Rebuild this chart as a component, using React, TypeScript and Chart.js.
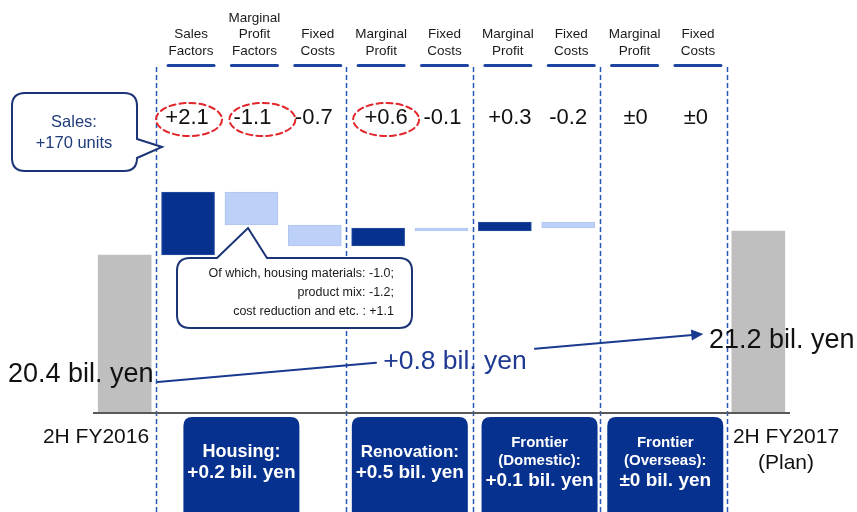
import React, { useEffect, useRef } from 'react';
import { Chart, registerables } from 'chart.js';
Chart.register(...registerables);

const categories = ['2H FY2016', 'Sales Factors', 'Marginal Profit Factors', 'Fixed Costs', 'Marginal Profit', 'Fixed Costs', 'Marginal Profit', 'Fixed Costs', 'Marginal Profit', 'Fixed Costs', '2H FY2017 (Plan)'];
const headerLabels: string[][] = [[], ['Sales', 'Factors'], ['Marginal', 'Profit', 'Factors'], ['Fixed', 'Costs'], ['Marginal', 'Profit'], ['Fixed', 'Costs'], ['Marginal', 'Profit'], ['Fixed', 'Costs'], ['Marginal', 'Profit'], ['Fixed', 'Costs'], []];
const totals = [20.4, null, null, null, null, null, null, null, null, null, 21.2];
const changeFrom = [null, 20.4, 21.4, 20.7, 20.7, 21.2, 21.2, 21.3, null, null, null];
const changeTo = [null, 22.5, 22.5, 21.4, 21.3, 21.3, 21.5, 21.5, null, null, null];
const changeLabels = ['', '+2.1', '-1.1', '-0.7', '+0.6', '-0.1', '+0.3', '-0.2', '±0', '±0', ''];
const changeDark = [false, true, false, false, true, false, true, false, true, false, false];
const highlighted = [false, true, true, false, true, false, false, false, false, false, false];
const segments = [
  { first: 1, last: 3, title: ['Housing:'], value: '+0.2 bil. yen' },
  { first: 4, last: 5, title: ['Renovation:'], value: '+0.5 bil. yen' },
  { first: 6, last: 7, title: ['Frontier', '(Domestic):'], value: '+0.1 bil. yen' },
  { first: 8, last: 9, title: ['Frontier', '(Overseas):'], value: '±0 bil. yen' },
];
const startLabel = '20.4 bil. yen';
const endLabel = '21.2 bil. yen';
const diffLabel = '+0.8 bil. yen';
const salesNote = ['Sales:', '+170 units'];
const breakdownNote = ['Of which, housing materials: -1.0;', 'product mix: -1.2;', 'cost reduction and etc. : +1.1'];
const startCat = ['2H FY2016'];
const endCat = ['2H FY2017', '(Plan)'];

const DARK = '#06318f';
const LIGHT = '#bdd0f8';
const GRAY = '#bfbfbf';
const NAVY = '#1b3476';
const DASH = '#2857b8';
const FONT = '"Liberation Sans", Arial, sans-serif';

function roundRect(ctx: CanvasRenderingContext2D, x: number, y: number, w: number, h: number, r: number) {
  ctx.beginPath();
  ctx.moveTo(x + r, y);
  ctx.lineTo(x + w - r, y);
  ctx.quadraticCurveTo(x + w, y, x + w, y + r);
  ctx.lineTo(x + w, y + h - r);
  ctx.quadraticCurveTo(x + w, y + h, x + w - r, y + h);
  ctx.lineTo(x + r, y + h);
  ctx.quadraticCurveTo(x, y + h, x, y + h - r);
  ctx.lineTo(x, y + r);
  ctx.quadraticCurveTo(x, y, x + r, y);
  ctx.closePath();
}

const overlay = {
  id: 'overlay',
  beforeDatasetsDraw(chart: any) {
    const ctx: CanvasRenderingContext2D = chart.ctx;
    const xs = chart.scales.x;
    const area = chart.chartArea;
    const step = xs.getPixelForValue(1) - xs.getPixelForValue(0);
    ctx.save();
    ctx.strokeStyle = DASH;
    ctx.lineWidth = 1.5;
    ctx.setLineDash([5, 3]);
    const bounds = [0, 3, 5, 7, 9];
    bounds.forEach((b) => {
      const x = Math.round(xs.getPixelForValue(b) + step / 2) + 0.5;
      ctx.beginPath();
      ctx.moveTo(x, 67);
      ctx.lineTo(x, 512);
      ctx.stroke();
    });
    ctx.setLineDash([]);
    ctx.strokeStyle = '#595959';
    ctx.lineWidth = 2;
    ctx.beginPath();
    ctx.moveTo(area.left, area.bottom + 1);
    ctx.lineTo(area.right, area.bottom + 1);
    ctx.stroke();
    ctx.restore();
  },
  afterDraw(chart: any) {
    const ctx: CanvasRenderingContext2D = chart.ctx;
    const xs = chart.scales.x;
    ctx.save();
    ctx.textBaseline = 'middle';
    ctx.textAlign = 'center';
    // headers
    headerLabels.forEach((lines, i) => {
      if (!lines.length) return;
      const cx = xs.getPixelForValue(i) + 3;
      ctx.fillStyle = '#1a1a1a';
      ctx.font = `13.5px ${FONT}`;
      lines.forEach((t, j) => {
        const y = 51 - (lines.length - 1 - j) * 16.5;
        ctx.fillText(t, cx, y);
      });
      ctx.strokeStyle = '#1c44a0';
      ctx.lineWidth = 3;
      ctx.lineCap = 'round';
      ctx.beginPath();
      ctx.moveTo(cx - 23, 65.5);
      ctx.lineTo(cx + 23, 65.5);
      ctx.stroke();
    });
    // change labels
    const offs = [0, -1, 1, -1, 8, 1, 5, 0, 4, 1, 0];
    const ellOffs = [0, 1, 11, 0, 8, 0, 0, 0, 0, 0, 0];
    changeLabels.forEach((t, i) => {
      if (!t) return;
      const cx = xs.getPixelForValue(i);
      ctx.fillStyle = '#111';
      ctx.font = `22px ${FONT}`;
      ctx.fillText(t, cx + offs[i], 118);
      if (highlighted[i]) {
        ctx.strokeStyle = '#e3262b';
        ctx.lineWidth = 2;
        ctx.setLineDash([6, 4]);
        ctx.beginPath();
        ctx.ellipse(cx + ellOffs[i], 119.5, 33, 16.5, 0, 0, Math.PI * 2);
        ctx.stroke();
        ctx.setLineDash([]);
      }
    });
    // Sales callout
    ctx.strokeStyle = NAVY;
    ctx.lineWidth = 2;
    ctx.fillStyle = '#fff';
    ctx.beginPath();
    const sx = 12, sy = 93, sw = 125, sh = 78, r = 13;
    ctx.moveTo(sx + r, sy);
    ctx.lineTo(sx + sw - r, sy);
    ctx.quadraticCurveTo(sx + sw, sy, sx + sw, sy + r);
    ctx.lineTo(sx + sw, 139);
    ctx.lineTo(162, 147);
    ctx.lineTo(sx + sw, 158);
    ctx.lineTo(sx + sw, sy + sh - r);
    ctx.quadraticCurveTo(sx + sw, sy + sh, sx + sw - r, sy + sh);
    ctx.lineTo(sx + r, sy + sh);
    ctx.quadraticCurveTo(sx, sy + sh, sx, sy + sh - r);
    ctx.lineTo(sx, sy + r);
    ctx.quadraticCurveTo(sx, sy, sx + r, sy);
    ctx.closePath();
    ctx.fill();
    ctx.stroke();
    ctx.fillStyle = '#1f3b7a';
    ctx.font = `16.5px ${FONT}`;
    ctx.fillText(salesNote[0], 74, 122);
    ctx.fillText(salesNote[1], 74, 143);
    // breakdown callout
    const bx = 177, by = 258, bw = 235, bh = 70, br = 13;
    ctx.fillStyle = '#fff';
    ctx.strokeStyle = NAVY;
    ctx.beginPath();
    ctx.moveTo(bx + br, by);
    ctx.lineTo(217, by);
    ctx.lineTo(248, 228);
    ctx.lineTo(267, by);
    ctx.lineTo(bx + bw - br, by);
    ctx.quadraticCurveTo(bx + bw, by, bx + bw, by + br);
    ctx.lineTo(bx + bw, by + bh - br);
    ctx.quadraticCurveTo(bx + bw, by + bh, bx + bw - br, by + bh);
    ctx.lineTo(bx + br, by + bh);
    ctx.quadraticCurveTo(bx, by + bh, bx, by + bh - br);
    ctx.lineTo(bx, by + br);
    ctx.quadraticCurveTo(bx, by, bx + br, by);
    ctx.closePath();
    ctx.fill();
    ctx.stroke();
    ctx.fillStyle = '#1a1a1a';
    ctx.font = `12.5px ${FONT}`;
    ctx.textAlign = 'right';
    breakdownNote.forEach((t, j) => ctx.fillText(t, 394, 274 + j * 19));
    // arrow
    ctx.textAlign = 'center';
    const x0 = xs.getPixelForValue(0) + 33;
    const x1 = xs.getPixelForValue(10) - 55;
    const y0 = 382, y1 = 334;
    const yAt = (x: number) => y0 + (y1 - y0) * (x - x0) / (x1 - x0);
    ctx.strokeStyle = '#1a3a8f';
    ctx.lineWidth = 2;
    ctx.beginPath();
    ctx.moveTo(x0, y0);
    ctx.lineTo(376, yAt(376));
    ctx.moveTo(535, yAt(535));
    ctx.lineTo(x1 - 8, yAt(x1 - 8));
    ctx.stroke();
    const ang = Math.atan2(y1 - y0, x1 - x0);
    ctx.fillStyle = '#1a3a8f';
    ctx.beginPath();
    ctx.moveTo(x1, y1);
    ctx.lineTo(x1 - 12 * Math.cos(ang) + 5.5 * Math.sin(ang), y1 - 12 * Math.sin(ang) - 5.5 * Math.cos(ang));
    ctx.lineTo(x1 - 12 * Math.cos(ang) - 5.5 * Math.sin(ang), y1 - 12 * Math.sin(ang) + 5.5 * Math.cos(ang));
    ctx.closePath();
    ctx.fill();
    ctx.textBaseline = 'alphabetic';
    ctx.fillStyle = '#1f3a93';
    ctx.font = `26.5px ${FONT}`;
    ctx.fillText(diffLabel, 455, 369);
    ctx.fillStyle = '#111';
    ctx.textAlign = 'left';
    ctx.font = `27px ${FONT}`;
    ctx.fillText(startLabel, 8, 382);
    ctx.fillText(endLabel, 709, 348);
    ctx.textBaseline = 'middle';
    // category labels at ends
    ctx.textAlign = 'center';
    ctx.font = `21px ${FONT}`;
    ctx.fillText(startCat[0], 96, 437);
    ctx.fillText(endCat[0], 786, 437);
    ctx.fillText(endCat[1], 786, 463);
    // segment boxes
    const boxOffs = [-10, 0, 3, 2];
    segments.forEach((s, k) => {
      const cx = (xs.getPixelForValue(s.first) + xs.getPixelForValue(s.last)) / 2 + boxOffs[k];
      ctx.fillStyle = '#07318e';
      roundRect(ctx, cx - 58, 417, 116, 110, 9);
      ctx.fill();
      ctx.fillStyle = '#fff';
      if (s.title.length === 1) {
        ctx.font = `bold ${k === 0 ? 18 : 17}px ${FONT}`;
        ctx.fillText(s.title[0], cx, 452);
        ctx.font = `bold 19px ${FONT}`;
        ctx.fillText(s.value, cx, 473);
      } else {
        ctx.font = `bold 15px ${FONT}`;
        ctx.fillText(s.title[0], cx, 443);
        ctx.fillText(s.title[1], cx, 461);
        ctx.font = `bold 19px ${FONT}`;
        ctx.fillText(s.value, cx, 481);
      }
    });
    ctx.restore();
  },
};

export default function App() {
  const ref = useRef<HTMLCanvasElement>(null);
  useEffect(() => {
    if (!ref.current) return;
    const chart = new Chart(ref.current, {
      type: 'bar',
      data: {
        labels: categories,
        datasets: [
          {
            label: 'Total',
            data: totals as any,
            backgroundColor: GRAY,
            grouped: false,
            barThickness: 53,
          } as any,
          {
            label: 'Change',
            data: changeFrom.map((f, i) => (f === null ? null : [f, changeTo[i]])) as any,
            backgroundColor: changeDark.map((d) => (d ? DARK : LIGHT)),
            borderColor: changeDark.map((d) => (d ? '#2a4f9f' : '#b0c4ee')),
            borderWidth: 1,
            borderSkipped: false,
            grouped: false,
            barThickness: 53,
          } as any,
        ],
      },
      options: {
        animation: false,
        responsive: false,
        maintainAspectRatio: false,
        layout: { padding: { left: 93, right: 67, top: 12, bottom: 100 } },
        plugins: { legend: { display: false }, tooltip: { enabled: false } },
        scales: {
          x: { display: false, grid: { display: false } },
          y: { display: false, min: 15.1667, max: 28.5, grid: { display: false } },
        },
      },
      plugins: [overlay],
    });
    return () => chart.destroy();
  }, []);
  return (
    <div style={{ position: 'fixed', left: 0, top: 0, width: 857, height: 512, background: '#fff' }}>
      <canvas ref={ref} width={857} height={512} style={{ width: 857, height: 512 }} />
    </div>
  );
}
